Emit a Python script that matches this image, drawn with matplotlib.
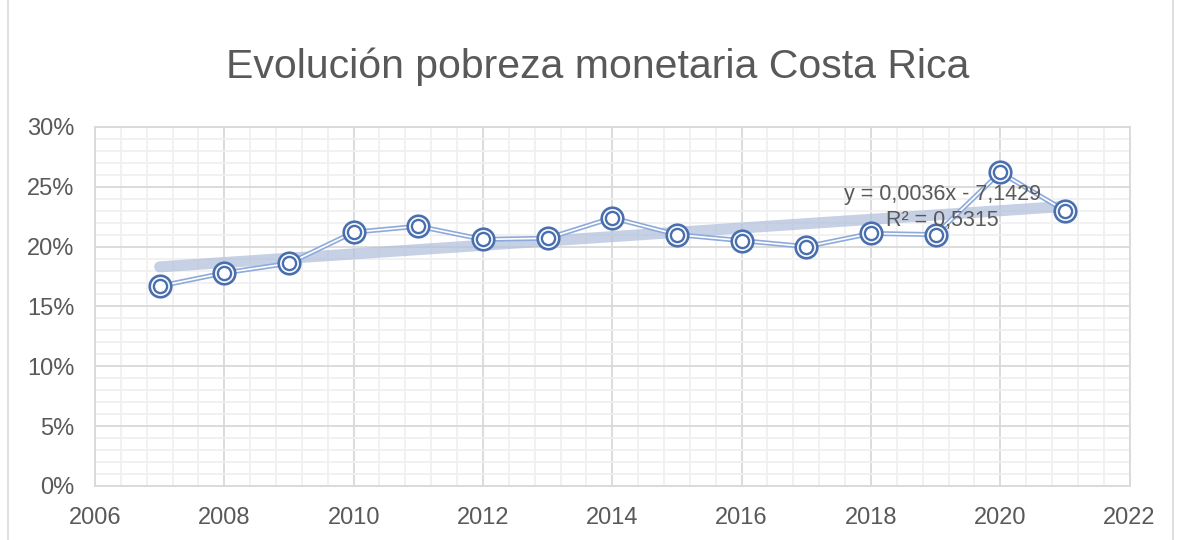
import numpy as np
import matplotlib.pyplot as plt
from matplotlib.ticker import MultipleLocator, PercentFormatter
from matplotlib.patches import Rectangle

# Data (poverty rate, fraction)
years = [2007, 2008, 2009, 2010, 2011, 2012, 2013, 2014,
         2015, 2016, 2017, 2018, 2019, 2020, 2021]
pobreza = [0.167, 0.178, 0.186, 0.212, 0.217, 0.206, 0.207, 0.224,
           0.210, 0.205, 0.200, 0.211, 0.210, 0.262, 0.230]

title = "Evolución pobreza monetaria Costa Rica"
eq_text = "y = 0,0036x - 7,1429\nR² = 0,5315"

line_col = "#8eaadb"
mark_col = "#4a6fae"
text_col = "#595959"

plt.rcParams['font.family'] = ['Liberation Sans', 'DejaVu Sans']

fig = plt.figure(figsize=(11.77, 5.4), dpi=100)
ax = fig.add_axes([0.0807, 0.1, 0.879, 0.665])

# chart area border
fig.patches.append(Rectangle((0.007, -0.01), 0.99, 1.02, transform=fig.transFigure,
                             fill=False, edgecolor="#d9d9d9", lw=1.2))

# linear trendline (thick, light)
coef = np.polyfit(years, pobreza, 1)
tx = np.array([years[0], years[-1]])
ax.plot(tx, np.polyval(coef, tx), color="#b4c2dd", lw=8, alpha=0.75,
        solid_capstyle="round", zorder=3)

# double line: wide blue line with a thin white line on top
ax.plot(years, pobreza, color=line_col, lw=3.6, zorder=4)
ax.plot(years, pobreza, color="white", lw=1.2, zorder=5)

# double circle markers
ax.plot(years, pobreza, ls="none", marker="o", ms=15.5, mfc="white",
        mec=mark_col, mew=1.9, zorder=6)
ax.plot(years, pobreza, ls="none", marker="o", ms=9.5, mfc="none",
        mec=mark_col, mew=1.7, zorder=7)

ax.set_xlim(2006, 2022)
ax.set_ylim(0, 0.30)
ax.xaxis.set_major_locator(MultipleLocator(2))
ax.xaxis.set_minor_locator(MultipleLocator(0.4))
ax.yaxis.set_major_locator(MultipleLocator(0.05))
ax.yaxis.set_minor_locator(MultipleLocator(0.01))
ax.yaxis.set_major_formatter(PercentFormatter(1.0, decimals=0))

ax.grid(which="major", color="#d9d9d9", lw=1.3)
ax.grid(which="minor", color="#f0f0f0", lw=1.3)
ax.set_axisbelow(True)
for s in ax.spines.values():
    s.set_color("#d9d9d9")
    s.set_linewidth(1.3)

ax.tick_params(which="both", length=0, labelsize=17, colors=text_col)
ax.tick_params(axis="x", pad=15)
ax.tick_params(axis="y", pad=15)

ax.text(0.819, 0.775, eq_text, transform=ax.transAxes, ha="center", va="center",
        fontsize=15.5, color=text_col, linespacing=1.35, zorder=8)

fig.text(0.508, 0.876, title, ha="center", va="center", fontsize=29.5,
         color=text_col)

fig.savefig("out.png", dpi=100)
